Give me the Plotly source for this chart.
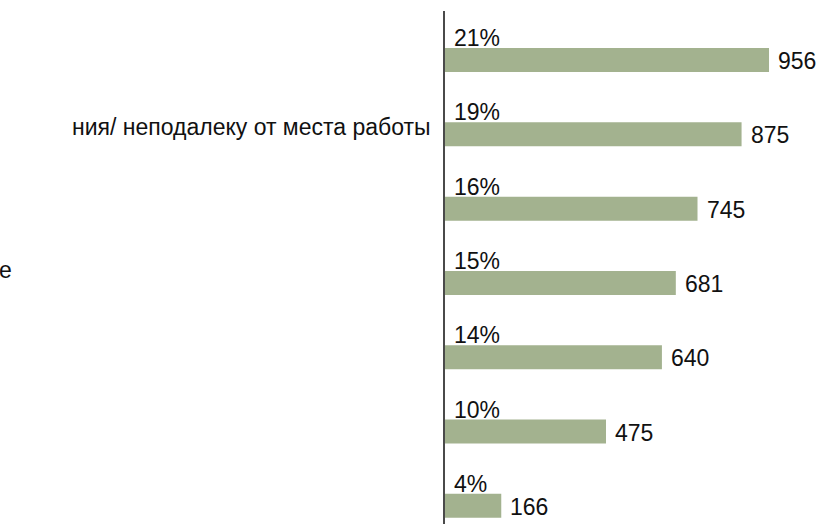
import plotly.graph_objects as go

# Survey results: respondent counts and shares per answer row
rows = [0, 1, 2, 3, 4, 5, 6]
counts = [956, 875, 745, 681, 640, 475, 166]
shares = [21, 19, 16, 15, 14, 10, 4]

# Visible parts of the row captions (the rest runs off the left edge)
caption_row1 = "ния/ неподалеку от места работы"
caption_row3 = "е"

FONT = "Liberation Sans, Arial, sans-serif"
SIZE = 23
INK = "#111111"
BAR_COLOR = "#a3b28f"

fig = go.Figure(
    go.Bar(
        x=counts,
        y=rows,
        orientation="h",
        marker=dict(color=BAR_COLOR, line=dict(width=0)),
        width=0.323,
        hoverinfo="x",
    )
)

# Count labels just right of each bar end
for r, c in zip(rows, counts):
    fig.add_annotation(
        x=c, y=r, xref="x", yref="y",
        text=str(c), showarrow=False,
        xanchor="left", yanchor="middle",
        xshift=7, yshift=-1,
        font=dict(family=FONT, size=SIZE, color=INK),
    )

# Share labels sit above the start of each bar
for r, s in zip(rows, shares):
    fig.add_annotation(
        x=0, y=r, xref="x", yref="y",
        text=f"{s}%", showarrow=False,
        xanchor="left", yanchor="middle",
        xshift=7, yshift=22,
        font=dict(family=FONT, size=SIZE, color=INK),
    )

# Row captions, right-aligned against the axis
fig.add_annotation(
    x=0, y=1, xref="x", yref="y", text=caption_row1, showarrow=False,
    xanchor="right", yanchor="middle", xshift=-12, yshift=7,
    font=dict(family=FONT, size=SIZE, color=INK),
)
fig.add_annotation(
    x=-445 / 383, y=3, xref="paper", yref="y", text=caption_row3, showarrow=False,
    xanchor="left", yanchor="middle", xshift=-3, yshift=13,
    font=dict(family=FONT, size=SIZE, color=INK),
)

fig.update_layout(
    width=828, height=524,
    margin=dict(l=445, r=0, t=11, b=0),
    paper_bgcolor="white",
    plot_bgcolor="rgba(0,0,0,0)",
    showlegend=False,
    bargap=0.677,
    xaxis=dict(range=[0, 1130], visible=False, fixedrange=True),
    yaxis=dict(
        range=[6.244, -0.66],
        showticklabels=False,
        showgrid=False,
        zeroline=False,
        showline=True,
        linecolor="#4a4a4a",
        linewidth=2,
        ticks="",
        fixedrange=True,
    ),
)

fig.write_html("out.html")
